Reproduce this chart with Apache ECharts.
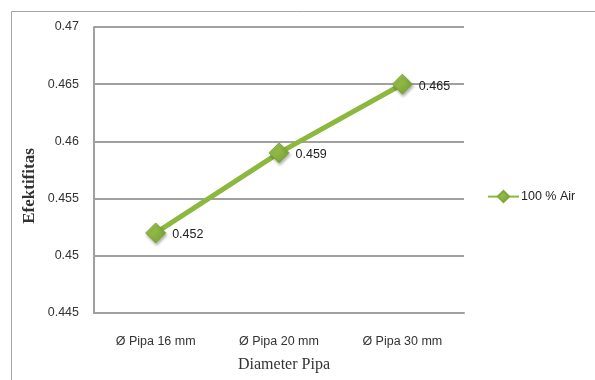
<!DOCTYPE html>
<html>
<head>
<meta charset="utf-8">
<style>
  html, body { margin: 0; padding: 0; background: #fff; }
  #chart { width: 595px; height: 380px; }
</style>
<script src="https://cdn.jsdelivr.net/npm/echarts@6/dist/echarts.min.js"></script>
</head>
<body>
<div id="chart"></div>
<script>
// Pipe diameters and measured effectiveness
var categories = ['Ø Pipa 16 mm', 'Ø Pipa 20 mm', 'Ø Pipa 30 mm'];
var efektifitas = [0.452, 0.459, 0.465];
var seriesName = '100 % Air';
var xTitle = 'Diameter Pipa';
var yTitle = 'Efektifitas';

var chart = echarts.init(document.getElementById('chart'), null, { renderer: 'canvas' });

var labelFont = '"Liberation Sans", "DejaVu Sans", sans-serif';
var serifFont = '"Liberation Serif", "DejaVu Serif", serif';

chart.setOption({
  backgroundColor: '#ffffff',
  animation: false,
  graphic: [{
    type: 'rect',
    shape: { x: 11.5, y: 11.5, width: 620, height: 400 },
    style: { fill: 'none', stroke: '#a6a6a6', lineWidth: 1 },
    z: 0
  }, {
    // vertical axis title, placed a little below the plot's middle
    type: 'text',
    x: 30,
    y: 186,
    rotation: Math.PI / 2,
    style: {
      text: yTitle,
      fontFamily: serifFont,
      fontSize: 17,
      fontWeight: 'bold',
      fill: '#333',
      align: 'center',
      verticalAlign: 'middle'
    }
  }, {
    type: 'text',
    x: 284,
    y: 365,
    style: {
      text: xTitle,
      fontFamily: serifFont,
      fontSize: 16,
      fill: '#333',
      align: 'center',
      verticalAlign: 'middle'
    }
  }],
  grid: { left: 94, top: 27, width: 370, height: 286, containLabel: false },
  legend: {
    data: [seriesName],
    left: 487,
    top: 190,
    padding: 0,
    itemWidth: 31,
    itemHeight: 14,
    itemGap: 2,
    textStyle: { fontFamily: labelFont, fontSize: 12.5, color: '#222', padding: [0, 0, 0, -3] }
  },
  xAxis: {
    type: 'category',
    data: categories,
    boundaryGap: true,
    axisLine: { show: true, lineStyle: { color: '#a0a0a0', width: 2 } },
    axisTick: { show: false },
    axisLabel: { fontFamily: labelFont, fontSize: 12.5, color: '#333', margin: 22 }
  },
  yAxis: {
    type: 'value',
    min: 0.445,
    max: 0.47,
    interval: 0.005,
    axisLine: { show: true, lineStyle: { color: '#a0a0a0', width: 2 } },
    axisTick: { show: false },
    splitLine: { show: true, lineStyle: { color: '#a0a0a0', width: 2 } },
    axisLabel: {
      fontFamily: labelFont, fontSize: 12.5, color: '#333', margin: 15,
      formatter: function (v) { return String(parseFloat(v.toFixed(3))); }
    }
  },
  series: [{
    name: seriesName,
    type: 'line',
    data: efektifitas,
    symbol: 'diamond',
    symbolSize: 20,
    color: '#8cb83e',
    lineStyle: { color: '#8cb83e', width: 5 },
    itemStyle: {
      color: {
        type: 'linear', x: 0, y: 0, x2: 1, y2: 1,
        colorStops: [{ offset: 0, color: '#a9d05a' }, { offset: 1, color: '#6f9a2c' }]
      },
      borderColor: '#7ea83a',
      borderWidth: 1,
      shadowColor: 'rgba(0,0,0,0.3)',
      shadowBlur: 3,
      shadowOffsetX: 1,
      shadowOffsetY: 2
    },
    label: {
      show: true,
      position: 'right',
      distance: 6,
      fontFamily: labelFont,
      fontSize: 12.5,
      color: '#222',
      offset: [0, 2],
      formatter: function (p) { return p.value.toFixed(3); }
    },
    z: 3
  }]
});
</script>
</body>
</html>
